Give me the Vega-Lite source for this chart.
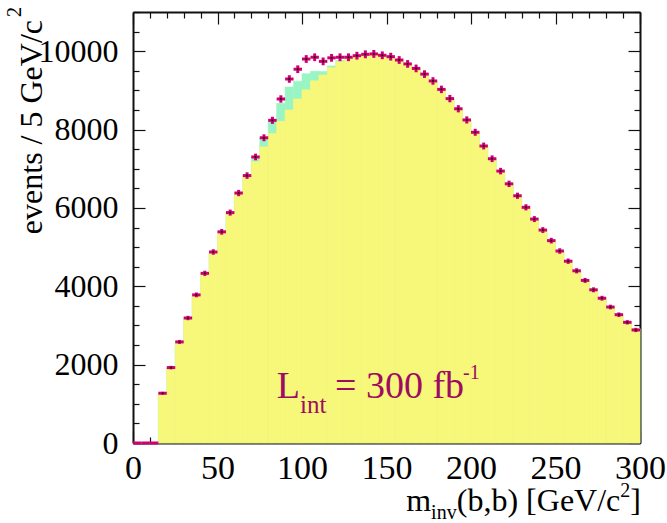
{
  "$schema": "https://vega.github.io/schema/vega-lite/v6.json",
  "width": 507,
  "height": 431,
  "autosize": {"type": "none"},
  "padding": {"left": 133, "top": 12, "right": 27, "bottom": 80},
  "background": "white",
  "config": {
    "view": {"stroke": null},
    "font": "Liberation Serif",
    "text": {"font": "Liberation Serif"},
    "axis": {
      "grid": false,
      "domainColor": "#111",
      "domainWidth": 2,
      "tickColor": "#111",
      "tickWidth": 1.2,
      "labelFont": "Liberation Serif",
      "labelColor": "#000",
      "labelFlush": false,
      "labelOverlap": false,
      "zindex": 2
    }
  },
  "data": {
    "values": [
      {"lo": 0, "hi": 5, "mid": 2.5, "obs": 0, "elo": 0, "ehi": 0, "bkg": 0, "tot": 0},
      {"lo": 5, "hi": 10, "mid": 7.5, "obs": 0, "elo": 0, "ehi": 0, "bkg": 0, "tot": 0},
      {"lo": 10, "hi": 15, "mid": 12.5, "obs": 0, "elo": 0, "ehi": 0, "bkg": 0, "tot": 0},
      {"lo": 15, "hi": 20, "mid": 17.5, "obs": 1270, "elo": 1234, "ehi": 1306, "bkg": 1270, "tot": 1270},
      {"lo": 20, "hi": 25, "mid": 22.5, "obs": 1925, "elo": 1881, "ehi": 1969, "bkg": 1925, "tot": 1925},
      {"lo": 25, "hi": 30, "mid": 27.5, "obs": 2580, "elo": 2529, "ehi": 2631, "bkg": 2580, "tot": 2580},
      {"lo": 30, "hi": 35, "mid": 32.5, "obs": 3190, "elo": 3134, "ehi": 3246, "bkg": 3190, "tot": 3190},
      {"lo": 35, "hi": 40, "mid": 37.5, "obs": 3780, "elo": 3719, "ehi": 3841, "bkg": 3780, "tot": 3780},
      {"lo": 40, "hi": 45, "mid": 42.5, "obs": 4330, "elo": 4264, "ehi": 4396, "bkg": 4330, "tot": 4330},
      {"lo": 45, "hi": 50, "mid": 47.5, "obs": 4875, "elo": 4805, "ehi": 4945, "bkg": 4875, "tot": 4875},
      {"lo": 50, "hi": 55, "mid": 52.5, "obs": 5390, "elo": 5317, "ehi": 5463, "bkg": 5390, "tot": 5390},
      {"lo": 55, "hi": 60, "mid": 57.5, "obs": 5880, "elo": 5803, "ehi": 5957, "bkg": 5880, "tot": 5880},
      {"lo": 60, "hi": 65, "mid": 62.5, "obs": 6380, "elo": 6300, "ehi": 6460, "bkg": 6380, "tot": 6380},
      {"lo": 65, "hi": 70, "mid": 67.5, "obs": 6825, "elo": 6742, "ehi": 6908, "bkg": 6825, "tot": 6825},
      {"lo": 70, "hi": 75, "mid": 72.5, "obs": 7300, "elo": 7215, "ehi": 7385, "bkg": 7180, "tot": 7310},
      {"lo": 75, "hi": 80, "mid": 77.5, "obs": 7790, "elo": 7702, "ehi": 7878, "bkg": 7560, "tot": 7780},
      {"lo": 80, "hi": 85, "mid": 82.5, "obs": 8235, "elo": 8144, "ehi": 8326, "bkg": 7900, "tot": 8220},
      {"lo": 85, "hi": 90, "mid": 87.5, "obs": 8780, "elo": 8686, "ehi": 8874, "bkg": 8210, "tot": 8670},
      {"lo": 90, "hi": 95, "mid": 92.5, "obs": 9290, "elo": 9194, "ehi": 9386, "bkg": 8500, "tot": 9085},
      {"lo": 95, "hi": 100, "mid": 97.5, "obs": 9540, "elo": 9442, "ehi": 9638, "bkg": 8780, "tot": 9235},
      {"lo": 100, "hi": 105, "mid": 102.5, "obs": 9800, "elo": 9701, "ehi": 9899, "bkg": 9015, "tot": 9425},
      {"lo": 105, "hi": 110, "mid": 107.5, "obs": 9845, "elo": 9746, "ehi": 9944, "bkg": 9245, "tot": 9485},
      {"lo": 110, "hi": 115, "mid": 112.5, "obs": 9740, "elo": 9641, "ehi": 9839, "bkg": 9390, "tot": 9480},
      {"lo": 115, "hi": 120, "mid": 117.5, "obs": 9830, "elo": 9731, "ehi": 9929, "bkg": 9580, "tot": 9625},
      {"lo": 120, "hi": 125, "mid": 122.5, "obs": 9845, "elo": 9746, "ehi": 9944, "bkg": 9730, "tot": 9760},
      {"lo": 125, "hi": 130, "mid": 127.5, "obs": 9845, "elo": 9746, "ehi": 9944, "bkg": 9790, "tot": 9800},
      {"lo": 130, "hi": 135, "mid": 132.5, "obs": 9885, "elo": 9786, "ehi": 9984, "bkg": 9843, "tot": 9843},
      {"lo": 135, "hi": 140, "mid": 137.5, "obs": 9920, "elo": 9820, "ehi": 10020, "bkg": 9885, "tot": 9885},
      {"lo": 140, "hi": 145, "mid": 142.5, "obs": 9930, "elo": 9830, "ehi": 10030, "bkg": 9900, "tot": 9900},
      {"lo": 145, "hi": 150, "mid": 147.5, "obs": 9895, "elo": 9796, "ehi": 9994, "bkg": 9885, "tot": 9885},
      {"lo": 150, "hi": 155, "mid": 152.5, "obs": 9860, "elo": 9761, "ehi": 9959, "bkg": 9850, "tot": 9850},
      {"lo": 155, "hi": 160, "mid": 157.5, "obs": 9775, "elo": 9676, "ehi": 9874, "bkg": 9770, "tot": 9770},
      {"lo": 160, "hi": 165, "mid": 162.5, "obs": 9675, "elo": 9577, "ehi": 9773, "bkg": 9675, "tot": 9675},
      {"lo": 165, "hi": 170, "mid": 167.5, "obs": 9560, "elo": 9462, "ehi": 9658, "bkg": 9560, "tot": 9560},
      {"lo": 170, "hi": 175, "mid": 172.5, "obs": 9415, "elo": 9318, "ehi": 9512, "bkg": 9415, "tot": 9415},
      {"lo": 175, "hi": 180, "mid": 177.5, "obs": 9240, "elo": 9144, "ehi": 9336, "bkg": 9240, "tot": 9240},
      {"lo": 180, "hi": 185, "mid": 182.5, "obs": 9025, "elo": 8930, "ehi": 9120, "bkg": 9025, "tot": 9025},
      {"lo": 185, "hi": 190, "mid": 187.5, "obs": 8790, "elo": 8696, "ehi": 8884, "bkg": 8790, "tot": 8790},
      {"lo": 190, "hi": 195, "mid": 192.5, "obs": 8530, "elo": 8438, "ehi": 8622, "bkg": 8530, "tot": 8530},
      {"lo": 195, "hi": 200, "mid": 197.5, "obs": 8245, "elo": 8154, "ehi": 8336, "bkg": 8245, "tot": 8245},
      {"lo": 200, "hi": 205, "mid": 202.5, "obs": 7930, "elo": 7841, "ehi": 8019, "bkg": 7930, "tot": 7930},
      {"lo": 205, "hi": 210, "mid": 207.5, "obs": 7580, "elo": 7493, "ehi": 7667, "bkg": 7580, "tot": 7580},
      {"lo": 210, "hi": 215, "mid": 212.5, "obs": 7255, "elo": 7170, "ehi": 7340, "bkg": 7255, "tot": 7255},
      {"lo": 215, "hi": 220, "mid": 217.5, "obs": 6940, "elo": 6857, "ehi": 7023, "bkg": 6940, "tot": 6940},
      {"lo": 220, "hi": 225, "mid": 222.5, "obs": 6615, "elo": 6534, "ehi": 6696, "bkg": 6615, "tot": 6615},
      {"lo": 225, "hi": 230, "mid": 227.5, "obs": 6310, "elo": 6231, "ehi": 6389, "bkg": 6310, "tot": 6310},
      {"lo": 230, "hi": 235, "mid": 232.5, "obs": 6015, "elo": 5937, "ehi": 6093, "bkg": 6015, "tot": 6015},
      {"lo": 235, "hi": 240, "mid": 237.5, "obs": 5715, "elo": 5639, "ehi": 5791, "bkg": 5715, "tot": 5715},
      {"lo": 240, "hi": 245, "mid": 242.5, "obs": 5435, "elo": 5361, "ehi": 5509, "bkg": 5435, "tot": 5435},
      {"lo": 245, "hi": 250, "mid": 247.5, "obs": 5165, "elo": 5093, "ehi": 5237, "bkg": 5165, "tot": 5165},
      {"lo": 250, "hi": 255, "mid": 252.5, "obs": 4900, "elo": 4830, "ehi": 4970, "bkg": 4900, "tot": 4900},
      {"lo": 255, "hi": 260, "mid": 257.5, "obs": 4640, "elo": 4572, "ehi": 4708, "bkg": 4640, "tot": 4640},
      {"lo": 260, "hi": 265, "mid": 262.5, "obs": 4395, "elo": 4329, "ehi": 4461, "bkg": 4395, "tot": 4395},
      {"lo": 265, "hi": 270, "mid": 267.5, "obs": 4150, "elo": 4086, "ehi": 4214, "bkg": 4150, "tot": 4150},
      {"lo": 270, "hi": 275, "mid": 272.5, "obs": 3910, "elo": 3847, "ehi": 3973, "bkg": 3910, "tot": 3910},
      {"lo": 275, "hi": 280, "mid": 277.5, "obs": 3695, "elo": 3634, "ehi": 3756, "bkg": 3695, "tot": 3695},
      {"lo": 280, "hi": 285, "mid": 282.5, "obs": 3470, "elo": 3411, "ehi": 3529, "bkg": 3470, "tot": 3470},
      {"lo": 285, "hi": 290, "mid": 287.5, "obs": 3275, "elo": 3218, "ehi": 3332, "bkg": 3275, "tot": 3275},
      {"lo": 290, "hi": 295, "mid": 292.5, "obs": 3080, "elo": 3025, "ehi": 3135, "bkg": 3080, "tot": 3080},
      {"lo": 295, "hi": 300, "mid": 297.5, "obs": 2885, "elo": 2831, "ehi": 2939, "bkg": 2920, "tot": 2920}
    ]
  },
  "resolve": {"axis": {"x": "independent", "y": "independent"}},
  "layer": [
    {
      "mark": {"type": "rect", "color": "#9AF5C4", "stroke": "#9AF5C4", "strokeWidth": 0.6},
      "encoding": {
        "x": {"field": "lo", "type": "quantitative",
          "scale": {"domain": [0, 300], "nice": false, "zero": false},
          "axis": {"orient": "bottom", "title": null, "values": [0, 50, 100, 150, 200, 250, 300],
            "tickSize": -12, "labelPadding": 20, "labelFontSize": 34, "labelFont": "Liberation Serif", "domain": true}},
        "x2": {"field": "hi"},
        "y": {"field": "tot", "type": "quantitative",
          "scale": {"domain": [0, 11000], "nice": false},
          "axis": {"orient": "left", "title": null, "format": "d", "values": [0, 2000, 4000, 6000, 8000, 10000],
            "tickSize": -12, "labelPadding": 27, "labelFontSize": 32, "labelFont": "Liberation Serif", "domain": true}},
        "y2": {"datum": 0}
      }
    },
    {
      "mark": {"type": "rect", "color": "#F7F77A", "stroke": "#F7F77A", "strokeWidth": 0.6},
      "encoding": {
        "x": {"field": "lo", "type": "quantitative",
          "axis": {"orient": "bottom", "title": null, "values": [10, 20, 30, 40, 60, 70, 80, 90, 110, 120, 130, 140, 160, 170, 180, 190, 210, 220, 230, 240, 260, 270, 280, 290],
            "tickSize": -6, "labels": false, "domain": false}},
        "x2": {"field": "hi"},
        "y": {"field": "bkg", "type": "quantitative",
          "axis": {"orient": "left", "title": null, "values": [500, 1000, 1500, 2500, 3000, 3500, 4500, 5000, 5500, 6500, 7000, 7500, 8500, 9000, 9500, 10500, 11000],
            "tickSize": -6, "labels": false, "domain": false}},
        "y2": {"datum": 0}
      }
    },
    {
      "mark": {"type": "rule", "color": "#CC0070", "strokeWidth": 3},
      "encoding": {
        "x": {"field": "lo", "type": "quantitative",
          "axis": {"orient": "top", "title": null, "values": [0, 50, 100, 150, 200, 250, 300],
            "tickSize": -12, "labels": false, "domain": true}},
        "x2": {"field": "hi"},
        "y": {"field": "obs", "type": "quantitative",
          "axis": {"orient": "right", "title": null, "values": [0, 2000, 4000, 6000, 8000, 10000],
            "tickSize": -12, "labels": false, "domain": true}}
      }
    },
    {
      "mark": {"type": "rule", "color": "#CC0070", "strokeWidth": 3},
      "encoding": {
        "x": {"field": "mid", "type": "quantitative",
          "axis": {"orient": "top", "title": null, "values": [10, 20, 30, 40, 60, 70, 80, 90, 110, 120, 130, 140, 160, 170, 180, 190, 210, 220, 230, 240, 260, 270, 280, 290],
            "tickSize": -6, "labels": false, "domain": false}},
        "y": {"field": "elo", "type": "quantitative",
          "axis": {"orient": "right", "title": null, "values": [500, 1000, 1500, 2500, 3000, 3500, 4500, 5000, 5500, 6500, 7000, 7500, 8500, 9000, 9500, 10500, 11000],
            "tickSize": -6, "labels": false, "domain": false}},
        "y2": {"field": "ehi"}
      }
    },
    {
      "transform": [{"filter": "datum.obs > 0"}],
      "mark": {"type": "square", "color": "#000", "size": 3, "opacity": 0.9},
      "encoding": {
        "x": {"field": "mid", "type": "quantitative", "axis": null},
        "y": {"field": "obs", "type": "quantitative", "axis": null}
      }
    },
    {
      "data": {"values": [{}]},
      "mark": {"type": "text", "text": "L", "font": "Liberation Serif", "fontSize": 38, "color": "#9E0B63", "align": "left", "baseline": "alphabetic"},
      "encoding": {
        "x": {"datum": 85.0, "type": "quantitative", "axis": null},
        "y": {"datum": 1148, "type": "quantitative", "axis": null}
      }
    },
    {
      "data": {"values": [{}]},
      "mark": {"type": "text", "text": "int", "font": "Liberation Serif", "fontSize": 25, "color": "#9E0B63", "align": "left", "baseline": "alphabetic"},
      "encoding": {
        "x": {"datum": 98.8, "type": "quantitative", "axis": null},
        "y": {"datum": 766, "type": "quantitative", "axis": null}
      }
    },
    {
      "data": {"values": [{}]},
      "mark": {"type": "text", "text": "= 300 fb", "font": "Liberation Serif", "fontSize": 38, "color": "#9E0B63", "align": "left", "baseline": "alphabetic"},
      "encoding": {
        "x": {"datum": 119.5, "type": "quantitative", "axis": null},
        "y": {"datum": 1148, "type": "quantitative", "axis": null}
      }
    },
    {
      "data": {"values": [{}]},
      "mark": {"type": "text", "text": "-1", "font": "Liberation Serif", "fontSize": 20, "color": "#9E0B63", "align": "left", "baseline": "alphabetic"},
      "encoding": {
        "x": {"datum": 195.3, "type": "quantitative", "axis": null},
        "y": {"datum": 1633, "type": "quantitative", "axis": null}
      }
    },
    {
      "data": {"values": [{}]},
      "mark": {"type": "text", "text": "events / 5 GeV/c", "font": "Liberation Serif", "fontSize": 32, "color": "#000", "align": "right", "baseline": "alphabetic", "angle": 270},
      "encoding": {
        "x": {"datum": -53.8, "type": "quantitative", "axis": null},
        "y": {"datum": 10796, "type": "quantitative", "axis": null}
      }
    },
    {
      "data": {"values": [{}]},
      "mark": {"type": "text", "text": "2", "font": "Liberation Serif", "fontSize": 20, "color": "#000", "align": "left", "baseline": "alphabetic", "angle": 270},
      "encoding": {
        "x": {"datum": -66.3, "type": "quantitative", "axis": null},
        "y": {"datum": 10872, "type": "quantitative", "axis": null}
      }
    },
    {
      "data": {"values": [{}]},
      "mark": {"type": "text", "text": "m", "font": "Liberation Serif", "fontSize": 32, "color": "#000", "align": "right", "baseline": "alphabetic"},
      "encoding": {
        "x": {"datum": 176.4, "type": "quantitative", "axis": null},
        "y": {"datum": -1735, "type": "quantitative", "axis": null}
      }
    },
    {
      "data": {"values": [{}]},
      "mark": {"type": "text", "text": "inv", "font": "Liberation Serif", "fontSize": 20, "color": "#000", "align": "left", "baseline": "alphabetic"},
      "encoding": {
        "x": {"datum": 176.4, "type": "quantitative", "axis": null},
        "y": {"datum": -1930, "type": "quantitative", "axis": null}
      }
    },
    {
      "data": {"values": [{}]},
      "mark": {"type": "text", "text": "(b,b) [GeV/c", "font": "Liberation Serif", "fontSize": 32, "color": "#000", "align": "left", "baseline": "alphabetic"},
      "encoding": {
        "x": {"datum": 191.6, "type": "quantitative", "axis": null},
        "y": {"datum": -1735, "type": "quantitative", "axis": null}
      }
    },
    {
      "data": {"values": [{}]},
      "mark": {"type": "text", "text": "2", "font": "Liberation Serif", "fontSize": 20, "color": "#000", "align": "left", "baseline": "alphabetic"},
      "encoding": {
        "x": {"datum": 288.3, "type": "quantitative", "axis": null},
        "y": {"datum": -1378, "type": "quantitative", "axis": null}
      }
    },
    {
      "data": {"values": [{}]},
      "mark": {"type": "text", "text": "]", "font": "Liberation Serif", "fontSize": 32, "color": "#000", "align": "right", "baseline": "alphabetic"},
      "encoding": {
        "x": {"datum": 300.6, "type": "quantitative", "axis": null},
        "y": {"datum": -1735, "type": "quantitative", "axis": null}
      }
    }
  ]
}
